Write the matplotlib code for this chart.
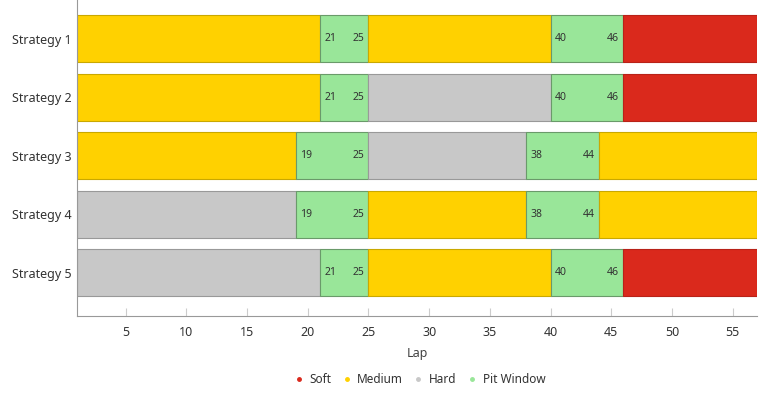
import matplotlib.pyplot as plt
from matplotlib.lines import Line2D

plt.rcParams['font.family'] = ['Noto Sans', 'DejaVu Sans']

strategies = ['Strategy 1', 'Strategy 2', 'Strategy 3', 'Strategy 4', 'Strategy 5']
stint1 = ['Medium', 'Medium', 'Medium', 'Hard', 'Hard']
stint2 = ['Medium', 'Hard', 'Hard', 'Medium', 'Medium']
stint3 = ['Soft', 'Soft', 'Medium', 'Medium', 'Soft']
pit1_open = [21, 21, 19, 19, 21]
pit1_close = [25, 25, 25, 25, 25]
pit2_open = [40, 40, 38, 38, 40]
pit2_close = [46, 46, 44, 44, 46]
race_start = 1
race_end = 57

colors = {'Soft': '#da291c', 'Medium': '#ffd100', 'Hard': '#c8c8c8', 'Pit Window': '#99e699'}
edges = {'Soft': '#b82218', 'Medium': '#c9a800', 'Hard': '#999999', 'Pit Window': '#6a9a6a'}

fig = plt.figure(figsize=(7.67, 3.95), dpi=100)
ax = fig.add_axes([0.1004, 0.2, 0.8866, 0.8])

for i in range(len(strategies)):
    segs = [
        (race_start, pit1_open[i], stint1[i]),
        (pit1_open[i], pit1_close[i], 'Pit Window'),
        (pit1_close[i], pit2_open[i], stint2[i]),
        (pit2_open[i], pit2_close[i], 'Pit Window'),
        (pit2_close[i], race_end, stint3[i]),
    ]
    for a, b, c in segs:
        ax.barh(i, b - a, left=a, height=0.8, color=colors[c],
                edgecolor=edges[c], linewidth=0.8)
        if c == 'Pit Window':
            ax.text(a + 0.35, i, str(a), ha='left', va='center', fontsize=7.5, color='#333333')
            ax.text(b - 0.35, i, str(b), ha='right', va='center', fontsize=7.5, color='#333333')

ax.set_xlim(1, 57)
ax.set_ylim(4.74, -0.66)
ax.set_yticks(range(len(strategies)))
ax.set_yticklabels(strategies, fontsize=9, color='#333333')
ax.set_xticks(range(5, 56, 5))
ax.tick_params(axis='x', direction='in', length=6, color='#cccccc', labelsize=9,
               labelcolor='#333333', pad=7)
ax.tick_params(axis='y', length=0, pad=4)
ax.set_xlabel('Lap', fontsize=9, color='#444444', labelpad=6)
for s in ['top', 'right']:
    ax.spines[s].set_visible(False)
for s in ['left', 'bottom']:
    ax.spines[s].set_color('#999999')
    ax.spines[s].set_linewidth(0.8)

handles = [Line2D([], [], marker='o', linestyle='', markersize=2.5,
                  markerfacecolor=colors[k], markeredgecolor=colors[k], label=k)
           for k in ['Soft', 'Medium', 'Hard', 'Pit Window']]
fig.legend(handles=handles, loc='center', bbox_to_anchor=(0.547, 0.04), ncol=4,
           frameon=False, fontsize=8.5, handlelength=0.8, handletextpad=0.5,
           columnspacing=0.9, labelcolor='#333333')

plt.savefig('out.png')
